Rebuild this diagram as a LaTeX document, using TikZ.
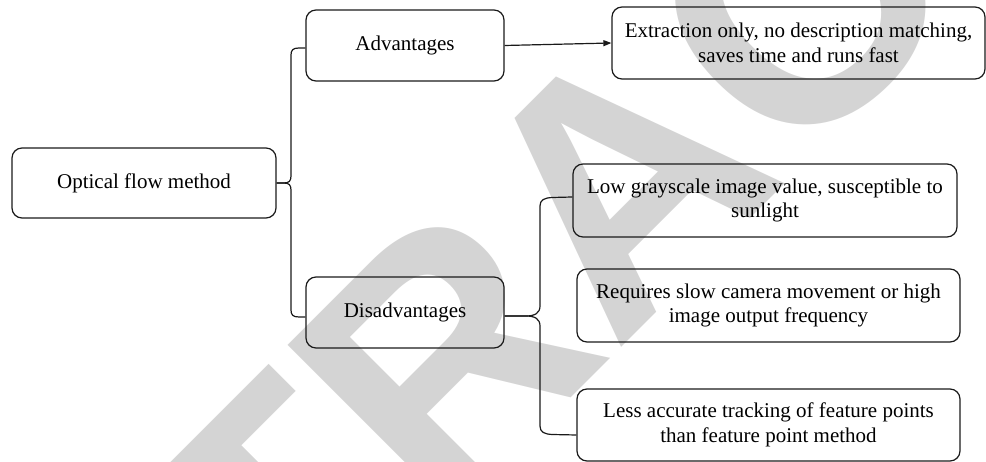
\documentclass[tikz,border=0pt]{standalone}
\usepackage{fontspec}
\setmainfont{Liberation Serif}
\newfontfamily\wmfont{Liberation Sans}
\usetikzlibrary{arrows.meta,calc}
\definecolor{wm}{RGB}{212,212,212}
\definecolor{ink}{RGB}{26,26,26}
\begin{document}
\begin{tikzpicture}[x=1pt,y=-1pt,
  box/.style={draw=ink,line width=1.2pt,rounded corners=10pt,inner sep=0pt,align=center,
    font=\fontsize{21}{24.5}\selectfont},
  conn/.style={draw=ink,line width=1.2pt},
  arr/.style={conn,-{Triangle[length=8pt,width=6pt]}}]
\useasboundingbox (0,0) rectangle (986,462);
\begin{scope}
\clip (0,0) rectangle (986,462);
\node[rotate=45,anchor=base west,inner sep=0pt,outer sep=0pt,text=wm,
  font=\wmfont\bfseries\fontsize{345}{345}\selectfont] (wmark) at (-48.1,1017.4) {RETRACTED};
\end{scope}
\node[box,minimum width=264pt,minimum height=70pt] (opt) at (144,183) {Optical flow method};
\node[box,minimum width=198pt,minimum height=71pt] (adv) at (405,45.5) {Advantages};
\node[box,minimum width=198pt,minimum height=71pt] (dis) at (405,312.5) {Disadvantages};
\node[box,minimum width=373pt,minimum height=72pt] (ext) at (798.5,43) {Extraction only, no description matching,\\saves time and runs fast};
\node[box,minimum width=384pt,minimum height=73pt] (low) at (765,200.5) {Low grayscale image value, susceptible to\\sunlight};
\node[box,minimum width=383pt,minimum height=73pt] (req) at (768.5,305.5) {Requires slow camera movement or high\\image output frequency};
\node[box,minimum width=383pt,minimum height=72pt] (less) at (768.5,425) {Less accurate tracking of feature points\\than feature point method};
% brace 1
\draw[conn] (opt.east) -- (284,183) .. controls (289,183) and (291,181) .. (291,176) -- (291,55)
  .. controls (291,50) and (293,48) .. (299,48) -- ([yshift=-2.5pt]adv.west);
\draw[conn] (opt.east) -- (284,183) .. controls (289,183) and (291,185) .. (291,190) -- (291,310)
  .. controls (291,315) and (293,317) .. (299,317) -- ([yshift=-4.5pt]dis.west);
% brace 2
\draw[conn] ([yshift=-3.5pt]dis.east) -- (526,316) .. controls (535,316) and (540,313) .. (540,306) -- (540,206)
  .. controls (540,200) and (544,198) .. (552,197.5) -- ([yshift=3.5pt]low.west);
\draw[conn] ([yshift=-3.5pt]dis.east) -- (526,316) .. controls (535,316) and (540,319) .. (540,326) -- (540,426)
  .. controls (540,432) and (544,434) .. (552,434.5) -- ([yshift=-10pt]less.west);
% arrow
\draw[arr] (adv.east) -- (ext.west);
\end{tikzpicture}
\end{document}
